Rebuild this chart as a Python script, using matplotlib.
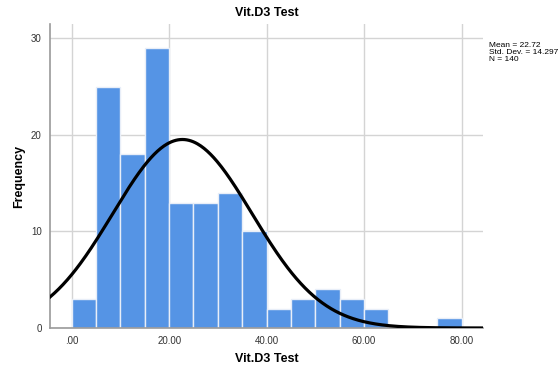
import numpy as np
import matplotlib.pyplot as plt

plt.rcParams['font.family'] = ['Liberation Sans', 'DejaVu Sans']

# histogram counts, bins of width 5 starting at 0
bin_left = [0, 5, 10, 15, 20, 25, 30, 35, 40, 45, 50, 55, 60, 65, 70, 75]
counts = [3, 25, 18, 29, 13, 13, 14, 10, 2, 3, 4, 3, 2, 0, 0, 1]
bin_width = 5
mean = 22.72
sd = 14.297
n = 140
xticks = [0, 20, 40, 60, 80]
xtick_labels = ['.00', '20.00', '40.00', '60.00', '80.00']
yticks = [0, 10, 20, 30]

fig = plt.figure(figsize=(5.59, 3.68), dpi=100)
ax = fig.add_axes([0.0894, 0.1087, 0.7746, 0.8261])

ax.bar(bin_left, counts, width=bin_width, align='edge', color='#5594e5',
       edgecolor='#e8eef8', linewidth=1.0, zorder=2)

xs = np.linspace(-4.45, 84.4, 400)
ys = n * bin_width * np.exp(-0.5 * ((xs - mean) / sd) ** 2) / (sd * np.sqrt(2 * np.pi))
ax.plot(xs, ys, color='black', linewidth=2.3, zorder=3)

ax.set_xlim(-4.45, 84.4)
ax.set_ylim(0, 31.5)
ax.set_xticks(xticks)
ax.set_xticklabels(xtick_labels)
ax.set_yticks(yticks)
ax.tick_params(length=0, labelsize=7, colors='#333333', pad=6)
ax.grid(True, color='#d4d4d4', linewidth=1.0, zorder=0)
ax.set_axisbelow(True)
for s in ['top', 'right']:
    ax.spines[s].set_visible(False)
for s in ['left', 'bottom']:
    ax.spines[s].set_color('#9a9a9a')
    ax.spines[s].set_linewidth(1.2)

ax.set_title('Vit.D3 Test', fontsize=9, fontweight='bold', pad=6)
ax.set_xlabel('Vit.D3 Test', fontsize=9, fontweight='bold')
ax.set_ylabel('Frequency', fontsize=9, fontweight='bold')
ax.xaxis.set_label_coords(0.5, -0.083)
ax.yaxis.set_label_coords(-0.058, 0.5)

fig.text(0.874, 0.885, 'Mean = %.2f\nStd. Dev. = %.3f\nN = %d' % (mean, sd, n),
         fontsize=6, va='top', ha='left', linespacing=1.0)

plt.savefig('out.png', dpi=100)
